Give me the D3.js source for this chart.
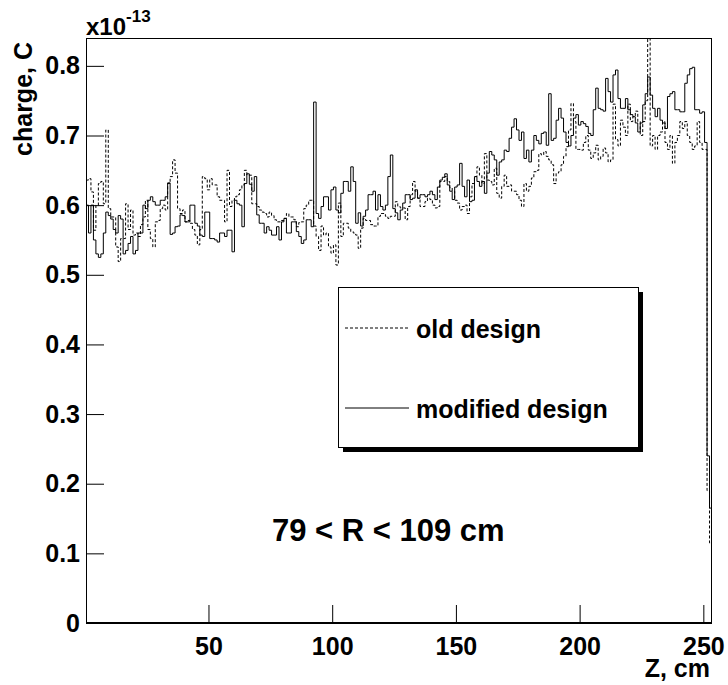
<!DOCTYPE html>
<html>
<head>
  <style>
    body { margin: 0; background: #fff; }
    text { font-family: "Liberation Sans", Arial, sans-serif; font-weight: bold; fill: #000; }
  </style>
  <script src="https://d3js.org/d3.v7.min.js"></script>
</head>
<body>
  <svg width="728" height="685"></svg>
  <script>
    // bins of 1 cm from 0.5 to 253.5, charge in units of 1e-13 C
    var zMin = 0.5, zMax = 253.5;

    var modifiedDesign = [
      0.60,0.56,0.60,0.55,0.53,0.525,0.53,0.56,0.59,0.585,
      0.58,0.565,0.56,0.585,0.58,0.53,0.535,0.545,0.555,0.53,
      0.535,0.56,0.56,0.60,0.595,0.607,0.612,0.605,0.60,0.60,
      0.607,0.607,0.612,0.632,0.558,0.56,0.569,0.57,0.586,0.585,
      0.576,0.576,0.60,0.60,0.574,0.57,0.557,0.555,0.59,0.59,
      0.552,0.552,0.55,0.547,0.56,0.56,0.555,0.564,0.564,0.533,
      0.607,0.602,0.60,0.569,0.631,0.645,0.63,0.62,0.641,0.586,
      0.574,0.574,0.56,0.569,0.564,0.557,0.557,0.569,0.55,0.576,
      0.581,0.56,0.56,0.576,0.576,0.562,0.555,0.545,0.55,0.579,
      0.579,0.569,0.748,0.588,0.581,0.598,0.612,0.612,0.593,0.622,
      0.626,0.593,0.589,0.617,0.634,0.634,0.62,0.655,0.634,0.574,
      0.589,0.57,0.584,0.593,0.615,0.615,0.62,0.593,0.615,0.598,
      0.593,0.60,0.641,0.672,0.595,0.589,0.579,0.593,0.603,0.615,
      0.615,0.608,0.61,0.622,0.61,0.615,0.615,0.612,0.615,0.62,
      0.615,0.608,0.626,0.636,0.64,0.645,0.629,0.62,0.608,0.626,
      0.629,0.66,0.627,0.612,0.636,0.605,0.607,0.641,0.634,0.627,
      0.634,0.617,0.646,0.677,0.672,0.665,0.643,0.662,0.665,0.679,
      0.677,0.696,0.712,0.724,0.708,0.693,0.705,0.667,0.679,0.662,
      0.679,0.70,0.693,0.688,0.703,0.705,0.686,0.76,0.693,0.696,
      0.722,0.739,0.725,0.705,0.69,0.685,0.70,0.725,0.73,0.715,
      0.72,0.717,0.713,0.703,0.70,0.737,0.768,0.739,0.737,0.735,
      0.782,0.763,0.748,0.787,0.794,0.753,0.739,0.739,0.753,0.737,
      0.73,0.727,0.718,0.705,0.718,0.744,0.76,0.784,0.758,0.739,
      0.727,0.739,0.722,0.718,0.71,0.756,0.76,0.763,0.737,0.737,
      0.734,0.734,0.775,0.787,0.796,0.798,0.737,0.737,0.732,0.734,
      0.69,0.24,0.165
    ];

    var oldDesign = [
      0.636,0.638,0.619,0.564,0.60,0.631,0.634,0.602,0.708,0.595,
      0.583,0.583,0.54,0.519,0.552,0.552,0.602,0.565,0.593,0.557,
      0.56,0.555,0.572,0.583,0.607,0.565,0.552,0.54,0.576,0.578,
      0.595,0.60,0.593,0.631,0.641,0.665,0.646,0.595,0.588,0.593,
      0.576,0.578,0.574,0.565,0.557,0.543,0.565,0.641,0.638,0.622,
      0.638,0.629,0.629,0.612,0.607,0.607,0.576,0.65,0.598,0.607,
      0.612,0.615,0.622,0.629,0.65,0.643,0.643,0.602,0.602,0.598,
      0.593,0.59,0.588,0.583,0.59,0.585,0.579,0.576,0.576,0.578,
      0.581,0.588,0.583,0.583,0.579,0.569,0.575,0.576,0.595,0.60,
      0.607,0.607,0.57,0.555,0.535,0.57,0.557,0.56,0.54,0.531,
      0.543,0.514,0.603,0.555,0.574,0.574,0.567,0.562,0.56,0.557,
      0.538,0.567,0.581,0.578,0.578,0.572,0.57,0.57,0.584,0.588,
      0.588,0.584,0.581,0.584,0.584,0.605,0.598,0.596,0.596,0.579,
      0.598,0.615,0.634,0.62,0.61,0.598,0.598,0.605,0.61,0.608,
      0.60,0.596,0.598,0.634,0.634,0.641,0.634,0.625,0.62,0.607,
      0.603,0.593,0.598,0.60,0.588,0.612,0.631,0.641,0.655,0.643,
      0.631,0.674,0.636,0.634,0.629,0.653,0.617,0.61,0.627,0.643,
      0.627,0.629,0.62,0.62,0.615,0.607,0.598,0.631,0.62,0.627,
      0.639,0.648,0.65,0.674,0.672,0.677,0.67,0.665,0.658,0.631,
      0.646,0.648,0.658,0.67,0.684,0.708,0.746,0.72,0.68,0.68,
      0.679,0.69,0.70,0.679,0.667,0.675,0.686,0.665,0.67,0.682,
      0.675,0.662,0.665,0.745,0.694,0.685,0.722,0.712,0.70,0.745,
      0.72,0.727,0.735,0.72,0.70,0.72,0.75,0.85,0.685,0.70,
      0.68,0.70,0.705,0.72,0.69,0.68,0.70,0.66,0.69,0.70,
      0.72,0.71,0.72,0.70,0.69,0.68,0.685,0.72,0.69,0.68,
      0.68,0.19,0.115
    ];

    var xTicks = [50, 100, 150, 200, 250];
    var yTicks = [0, 0.1, 0.2, 0.3, 0.4, 0.5, 0.6, 0.7, 0.8];
    var legendLabels = ["old design", "modified design"];
    var rangeLabel = "79 < R < 109 cm";

    var svg = d3.select("svg");
    var padL = 86, padR = 712, padT = 38, padB = 623;

    var x = d3.scaleLinear().domain([zMin, zMax]).range([padL, padR]);
    var y = d3.scaleLinear().domain([0, 0.84]).range([padB, padT]);

    svg.append("clipPath").attr("id", "frame")
      .append("rect").attr("x", padL).attr("y", padT)
      .attr("width", padR - padL).attr("height", padB - padT);

    // histogram as a step line
    function steps(vals) {
      var pts = vals.map(function (v, i) { return [zMin + i, v]; });
      pts.push([zMax, vals[vals.length - 1]]);
      return pts;
    }
    var line = d3.line()
      .x(function (d) { return x(d[0]); })
      .y(function (d) { return y(d[1]); })
      .curve(d3.curveStepAfter);

    var plot = svg.append("g").attr("clip-path", "url(#frame)");
    plot.append("path").datum(steps(oldDesign))
      .attr("d", line).attr("fill", "none").attr("stroke", "#000")
      .attr("stroke-width", 1).attr("stroke-dasharray", "3,2");
    plot.append("path").datum(steps(modifiedDesign))
      .attr("d", line).attr("fill", "none").attr("stroke", "#000")
      .attr("stroke-width", 1);

    // frame
    svg.append("rect")
      .attr("x", padL + 0.5).attr("y", padT + 0.5)
      .attr("width", padR - padL - 1).attr("height", padB - padT)
      .attr("fill", "none").attr("stroke", "#000").attr("stroke-width", 1);
    svg.append("line")
      .attr("x1", padL).attr("x2", padR)
      .attr("y1", padB).attr("y2", padB)
      .attr("stroke", "#000").attr("stroke-width", 2);

    // axes
    var xAxis = svg.append("g")
      .attr("transform", "translate(0," + padB + ")")
      .call(d3.axisBottom(x).tickValues(xTicks).tickSizeInner(-18).tickSizeOuter(0).tickPadding(14));
    var yAxis = svg.append("g")
      .attr("transform", "translate(" + padL + ",0)")
      .call(d3.axisLeft(y).tickValues(yTicks).tickSizeInner(-18).tickSizeOuter(0).tickPadding(6)
        .tickFormat(function (d) { return d === 0 ? "0" : d.toFixed(1); }));
    [xAxis, yAxis].forEach(function (a) {
      a.select(".domain").remove();
      a.selectAll("line").attr("stroke", "#000");
      a.selectAll("text").attr("font-size", 25)
        .attr("font-family", "Liberation Sans, Arial, sans-serif")
        .attr("font-weight", "bold").attr("fill", "#000");
    });

    // axis titles
    svg.append("text").attr("x", 710).attr("y", 677)
      .attr("text-anchor", "end").attr("font-size", 25).text("Z, cm");
    svg.append("text")
      .attr("transform", "translate(32,42) rotate(-90)")
      .attr("text-anchor", "end").attr("font-size", 25).text("charge, C");
    var mult = svg.append("text").attr("x", 86).attr("y", 35).attr("font-size", 24);
    mult.append("tspan").text("x10");
    mult.append("tspan").attr("font-size", 17).attr("dy", -13).text("-13");

    // legend
    var lg = svg.append("g");
    lg.append("rect").attr("x", 343).attr("y", 292).attr("width", 300).attr("height", 160).attr("fill", "#000");
    lg.append("rect").attr("x", 338.5).attr("y", 287.5).attr("width", 300).attr("height", 160)
      .attr("fill", "#fff").attr("stroke", "#000");
    legendLabels.forEach(function (name, i) {
      var ly = 328 + i * 80;
      lg.append("line").attr("x1", 345).attr("x2", 409).attr("y1", ly).attr("y2", ly)
        .attr("stroke", "#000").attr("stroke-dasharray", i === 0 ? "3,2" : null);
      lg.append("text").attr("x", 416).attr("y", ly + 10).attr("font-size", 25).text(name);
    });

    svg.append("text").attr("x", 272).attr("y", 541).attr("font-size", 31).text(rangeLabel);
  </script>
</body>
</html>
